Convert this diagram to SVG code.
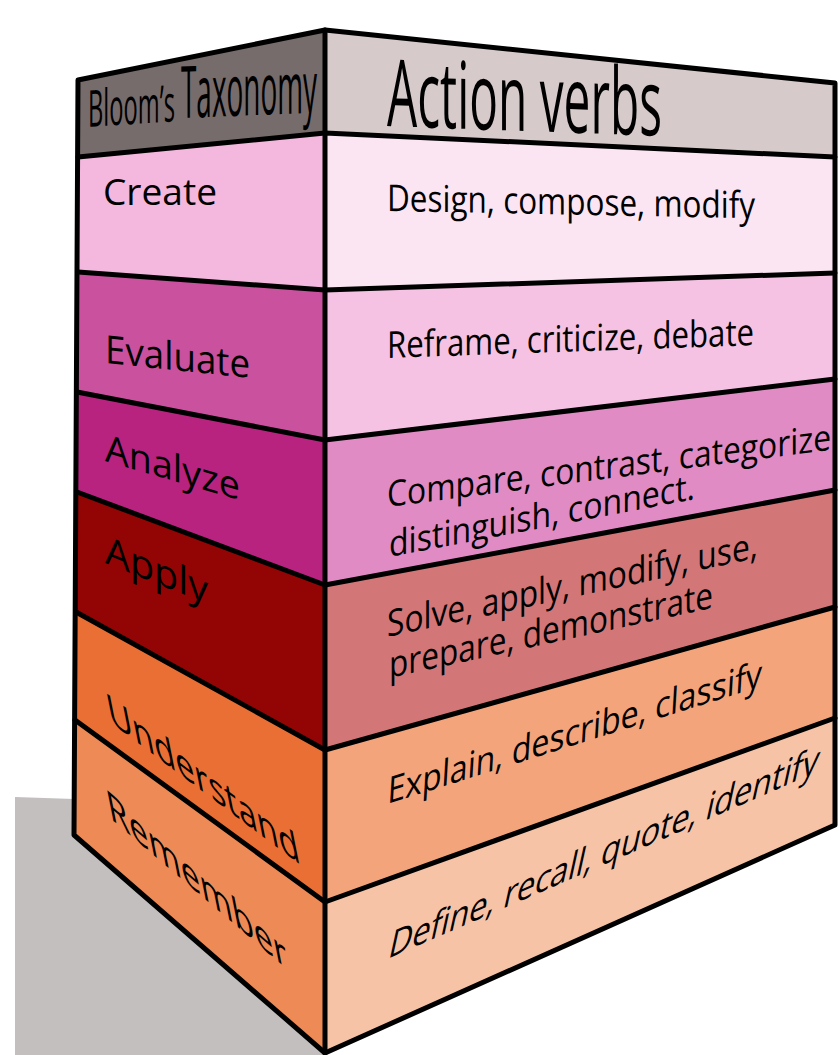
<svg xmlns="http://www.w3.org/2000/svg" width="839" height="1055" viewBox="0 0 839 1055">
  <style>
    .lbl { font-family: "Open Sans", "Liberation Sans", sans-serif; fill: #000; }
    .head { font-family: "Open Sans", "Liberation Sans", sans-serif; fill: #000; }
    .edge { fill: none; stroke: #000; stroke-width: 5; stroke-linejoin: round; stroke-linecap: round; }
  </style>

  <!-- ground shadow -->
  <polygon points="15,797 74,799 74,835 325,1053 325,1055 15,1055" fill="#c3bfbf"/>

  <!-- header row -->
  <g id="header">
    <polygon points="78,80 325,30 325,133 78,157" fill="#776c6c"/>
    <polygon points="325,30 835,83 835,157 325,133" fill="#d6caca"/>
    <text class="head" font-size="51" textLength="87" lengthAdjust="spacingAndGlyphs" transform="matrix(1,-0.066,0,1,88,127)">Bloom’s</text>
    <text class="head" font-size="72" textLength="136" lengthAdjust="spacingAndGlyphs" transform="matrix(1,-0.04,0,1,181,118)">Taxonomy</text>
    <text class="head" font-size="93" textLength="275" lengthAdjust="spacingAndGlyphs" transform="matrix(1,0.036,0,1,387,126)">Action verbs</text>
  </g>

  <g id="create">
    <polygon points="78,157 325,133 325,290 78,272" fill="#f4b7de"/>
    <polygon points="325,133 835,157 835,273 325,290" fill="#fce5f3"/>
    <text class="lbl" font-size="37" x="103" y="205" textLength="114" lengthAdjust="spacingAndGlyphs">Create</text>
    <text class="lbl" font-size="37" textLength="368" lengthAdjust="spacingAndGlyphs" transform="matrix(1,0.02,0,1,387,211)">Design, compose, modify</text>
  </g>

  <g id="evaluate">
    <polygon points="78,272 325,290 325,440 77,392" fill="#ca519e"/>
    <polygon points="325,290 835,273 835,379 325,440" fill="#f6c2e3"/>
    <text class="lbl" font-size="39" textLength="145" lengthAdjust="spacingAndGlyphs" transform="matrix(1,0.103,0,1,105,363)">Evaluate</text>
    <text class="lbl" font-size="37" textLength="367" lengthAdjust="spacingAndGlyphs" transform="matrix(1,-0.035,0,1,387,358)">Reframe, criticize, debate</text>
  </g>

  <g id="analyze">
    <polygon points="77,392 325,440 325,585 77,492" fill="#b7237f"/>
    <polygon points="325,440 835,379 835,490 325,585" fill="#e08bc4"/>
    <text class="lbl" font-size="38" textLength="135" lengthAdjust="spacingAndGlyphs" transform="matrix(1,0.29,0,1,105,461)">Analyze</text>
    <text class="lbl" font-size="36" textLength="444" lengthAdjust="spacingAndGlyphs" transform="matrix(1,-0.129,0,1,387,507)">Compare, contrast, categorize</text>
    <text class="lbl" font-size="36" textLength="306" lengthAdjust="spacingAndGlyphs" transform="matrix(1,-0.19,0,1,389,557)">distinguish, connect.</text>
  </g>

  <g id="apply">
    <polygon points="77,492 325,585 325,750 76,612" fill="#930404"/>
    <polygon points="325,585 835,490 835,607 325,750" fill="#d37677"/>
    <text class="lbl" font-size="39" textLength="103" lengthAdjust="spacingAndGlyphs" transform="matrix(1,0.4,0,1,105,563)">Apply</text>
    <text class="lbl" font-size="37" textLength="371" lengthAdjust="spacingAndGlyphs" transform="matrix(1,-0.214,0,1,387,637)">Solve, apply, modify, use,</text>
    <text class="lbl" font-size="37" textLength="324" lengthAdjust="spacingAndGlyphs" transform="matrix(1,-0.217,0,1,389,678)">prepare, demonstrate</text>
  </g>

  <g id="understand">
    <polygon points="76,612 325,750 325,902 75,720" fill="#ea6f34"/>
    <polygon points="325,750 835,607 835,718 325,902" fill="#f4a47b"/>
    <text class="lbl" font-size="43" textLength="192" lengthAdjust="spacingAndGlyphs" transform="matrix(1,0.75,0.2,1,110,722)">Understand</text>
    <text class="lbl" font-size="37" textLength="374" lengthAdjust="spacingAndGlyphs" transform="matrix(1,-0.315,-0.06,1,387,804)">Explain, describe, classify</text>
  </g>

  <g id="remember">
    <polygon points="75,720 325,902 325,1053 74,835" fill="#ee8a56"/>
    <polygon points="325,902 835,718 835,825 325,1053" fill="#f6c3a7"/>
    <text class="lbl" font-size="43" textLength="180" lengthAdjust="spacingAndGlyphs" transform="matrix(1,0.854,0.2,1,110,818)">Remember</text>
    <text class="lbl" font-size="39" textLength="429" lengthAdjust="spacingAndGlyphs" transform="matrix(1,-0.435,-0.22,1,387,959)">Define, recall, quote, identify</text>
  </g>

  <!-- outline of the block and the tier dividers -->
  <g id="connectors">
    <path class="edge" d="M78,80 L325,30 L835,83 L835,825 L325,1053 L74,835 Z"/>
    <path class="edge" d="M325,30 L325,1053"/>
    <path class="edge" d="M78,157 L325,133 L835,157"/>
    <path class="edge" d="M78,272 L325,290 L835,273"/>
    <path class="edge" d="M77,392 L325,440 L835,379"/>
    <path class="edge" d="M77,492 L325,585 L835,490"/>
    <path class="edge" d="M76,612 L325,750 L835,607"/>
    <path class="edge" d="M75,720 L325,902 L835,718"/>
  </g>
</svg>
